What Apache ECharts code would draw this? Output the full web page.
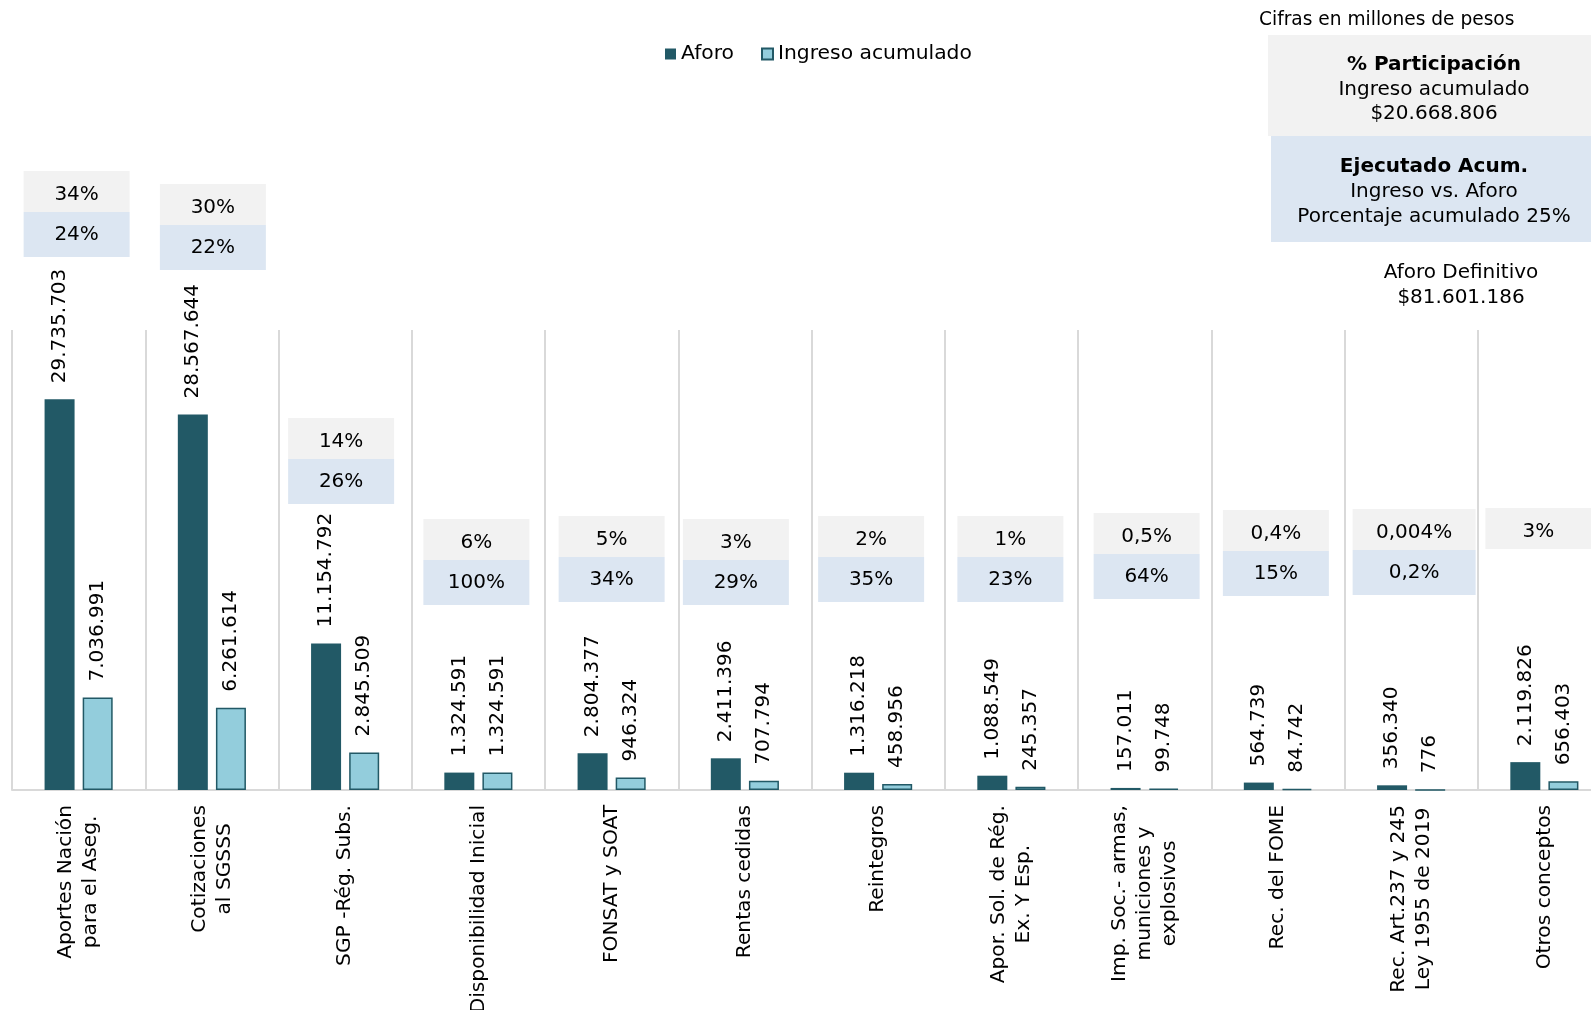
<!DOCTYPE html>
<html>
<head>
<meta charset="utf-8">
<script src="https://cdn.jsdelivr.net/npm/echarts@6/dist/echarts.min.js"></script>
<style>
  html, body { margin: 0; padding: 0; background: #fff; }
  #chart { width: 1591px; height: 1010px; }
</style>
</head>
<body>
<div id="chart"></div>
<script>
// ---- data ----
const categories = [
  'Aportes Nación\npara el Aseg.',
  'Cotizaciones\nal SGSSS',
  'SGP -Rég. Subs.',
  'Disponibilidad Inicial',
  'FONSAT y SOAT',
  'Rentas cedidas',
  'Reintegros',
  'Apor. Sol. de Rég.\nEx. Y Esp.',
  'Imp. Soc.- armas,\nmuniciones y\nexplosivos',
  'Rec. del FOME',
  'Rec. Art.237 y 245\nLey 1955 de 2019',
  'Otros conceptos'
];
const aforo = [29735703, 28567644, 11154792, 1324591, 2804377, 2411396, 1316218, 1088549, 157011, 564739, 356340, 2119826];
const ingreso = [7036991, 6261614, 2845509, 1324591, 946324, 707794, 458956, 245357, 99748, 84742, 776, 656403];
const participacion = ['34%', '30%', '14%', '6%', '5%', '3%', '2%', '1%', '0,5%', '0,4%', '0,004%', '3%'];
const ejecutado = ['24%', '22%', '26%', '100%', '34%', '29%', '35%', '23%', '64%', '15%', '0,2%', null];
const seriesNames = ['Aforo', 'Ingreso acumulado'];
const panelTexts = {
  note: 'Cifras en millones de pesos',
  part: ['% Participación', 'Ingreso acumulado', '$20.668.806'],
  ejec: ['Ejecutado Acum.', 'Ingreso vs. Aforo', 'Porcentaje acumulado 25%'],
  aforoDef: ['Aforo Definitivo', '$81.601.186']
};

// ---- layout (pixel positions of annotation boxes) ----
const boxTop = [171, 184, 418, 519, 516, 519, 516, 516, 513, 510, 509, 508];
const boxDx = [-2, 1, -4, -2, 0, -9, -7, -1, 2, -2, 3, -6];
const boxW = [106, 106, 106, 106, 106, 106, 106, 106, 106, 106, 123, 106];
const GREY_H = 41, BLUE_H = 45;

const FONT = 'DejaVu Sans';
const DARK = '#225966';
const LIGHT = '#93CDDC';
const GREY_BOX = '#F2F2F2';
const BLUE_BOX = '#DCE6F2';

function fmt(v) {
  return String(v).replace(/\B(?=(\d{3})+(?!\d))/g, '.');
}

const barLabel = {
  show: true,
  position: 'top',
  rotate: 90,
  align: 'left',
  verticalAlign: 'middle',
  distance: 16,
  fontSize: 20,
  fontFamily: FONT,
  color: '#000',
  formatter: p => fmt(p.value)
};

const chart = echarts.init(document.getElementById('chart'), null, { renderer: 'canvas' });

const option = {
  animation: false,
  textStyle: { fontFamily: FONT },
  legend: {
    data: seriesNames,
    left: 665,
    top: 44,
    padding: 0,
    itemWidth: 11,
    itemHeight: 11,
    itemGap: 27,
    icon: 'rect',
    textStyle: { fontSize: 20.3, fontFamily: FONT, color: '#000', padding: [0, 0, 0, 0] }
  },
  grid: { left: 12, width: 1599, top: 330, bottom: 220, containLabel: false, outerBoundsMode: 'none' },
  xAxis: {
    type: 'category',
    data: categories,
    boundaryGap: true,
    axisLine: { show: true, lineStyle: { color: '#d9d9d9', width: 2 } },
    axisTick: { show: false },
    splitLine: { show: true, lineStyle: { color: '#d9d9d9', width: 2 } },
    axisLabel: {
      interval: 0,
      rotate: 90,
      margin: 15,
      color: '#000',
      fontSize: 20,
      fontFamily: FONT,
      lineHeight: 25,
      formatter: v => v.split('\n').map(s => '{c|' + s + '}').join('\n'),
      rich: {
        c: { align: 'center', fontSize: 20.2, fontFamily: FONT, color: '#000', lineHeight: 25 }
      }
    }
  },
  yAxis: {
    type: 'value',
    min: 0,
    max: 35000000,
    show: false,
    splitLine: { show: false }
  },
  series: [
    {
      name: seriesNames[0],
      type: 'bar',
      data: aforo,
      barWidth: 30,
      barGap: '27%',
      itemStyle: { color: DARK },
      label: barLabel
    },
    {
      name: seriesNames[1],
      type: 'bar',
      data: ingreso,
      barWidth: 30,
      itemStyle: { color: LIGHT, borderColor: DARK, borderWidth: 1.5 },
      label: barLabel
    },
    {
      name: 'boxes',
      type: 'custom',
      clip: false,
      silent: true,
      data: participacion.map((_, i) => [i, 0]),
      renderItem: (params, api) => {
        const i = params.dataIndex;
        const cx = api.coord([i, 0])[0] + boxDx[i];
        const w = boxW[i];
        const top = boxTop[i];
        const children = [
          { type: 'rect', shape: { x: cx - w / 2, y: top, width: w, height: GREY_H }, style: { fill: GREY_BOX } },
          { type: 'text', x: cx, y: top + GREY_H / 2 + 3,
            style: { text: participacion[i], align: 'center', verticalAlign: 'middle', fontSize: 20, fontFamily: FONT, fill: '#000' } }
        ];
        if (ejecutado[i] != null) {
          children.push(
            { type: 'rect', shape: { x: cx - w / 2, y: top + GREY_H, width: w, height: BLUE_H }, style: { fill: BLUE_BOX } },
            { type: 'text', x: cx, y: top + GREY_H + BLUE_H / 2,
              style: { text: ejecutado[i], align: 'center', verticalAlign: 'middle', fontSize: 20, fontFamily: FONT, fill: '#000' } }
          );
        }
        return { type: 'group', children };
      }
    }
  ],
  graphic: [
    { type: 'text', left: 1259, top: 11,
      style: { text: panelTexts.note, fontSize: 18.6, fontFamily: FONT, fill: '#000' } },
    { type: 'rect', shape: { x: 1268, y: 35, width: 340, height: 101 }, style: { fill: GREY_BOX } },
    { type: 'rect', shape: { x: 1271, y: 136, width: 340, height: 106 }, style: { fill: BLUE_BOX } },
    { type: 'text', x: 1434, y: 64.5, style: { text: panelTexts.part[0], align: 'center', verticalAlign: 'middle', fontSize: 20, fontWeight: 'bold', fontFamily: FONT, fill: '#000' } },
    { type: 'text', x: 1434, y: 89.5, style: { text: panelTexts.part[1], align: 'center', verticalAlign: 'middle', fontSize: 20, fontFamily: FONT, fill: '#000' } },
    { type: 'text', x: 1434, y: 114, style: { text: panelTexts.part[2], align: 'center', verticalAlign: 'middle', fontSize: 20, fontFamily: FONT, fill: '#000' } },
    { type: 'text', x: 1434, y: 166.5, style: { text: panelTexts.ejec[0], align: 'center', verticalAlign: 'middle', fontSize: 20, fontWeight: 'bold', fontFamily: FONT, fill: '#000' } },
    { type: 'text', x: 1434, y: 191.5, style: { text: panelTexts.ejec[1], align: 'center', verticalAlign: 'middle', fontSize: 20, fontFamily: FONT, fill: '#000' } },
    { type: 'text', x: 1434, y: 216.5, style: { text: panelTexts.ejec[2], align: 'center', verticalAlign: 'middle', fontSize: 20, fontFamily: FONT, fill: '#000' } },
    { type: 'text', x: 1461, y: 272.5, style: { text: panelTexts.aforoDef[0], align: 'center', verticalAlign: 'middle', fontSize: 20, fontFamily: FONT, fill: '#000' } },
    { type: 'text', x: 1461, y: 297.5, style: { text: panelTexts.aforoDef[1], align: 'center', verticalAlign: 'middle', fontSize: 20, fontFamily: FONT, fill: '#000' } }
  ]
};

chart.setOption(option);
</script>
</body>
</html>
